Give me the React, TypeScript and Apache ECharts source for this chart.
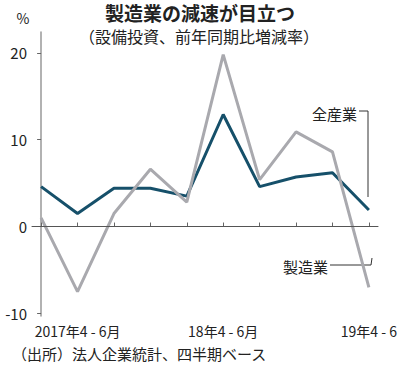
import React, { useEffect, useRef } from "react";
import * as echarts from "echarts";

const quarters = ["2017年1-3月", "2017年4-6月", "7-9月", "10-12月", "2018年1-3月", "18年4-6月", "7-9月", "10-12月", "2019年1-3月", "19年4-6月"];
const tickLabels = ["", "2017年4 - 6月", "", "", "", "18年4 - 6月", "", "", "", "19年4 - 6"];
const allIndustry = [4.6, 1.5, 4.4, 4.4, 3.5, 12.9, 4.6, 5.7, 6.2, 1.9];
const manufacturing = [1.0, -7.5, 1.5, 6.6, 2.8, 19.8, 5.4, 10.9, 8.6, -7.0];
const yTicks = [-10, 0, 10, 20];

const FONT = "'Noto Sans CJK JP', 'Noto Sans', sans-serif";
const TEXT = "#222";

export default function App() {
  const ref = useRef<HTMLDivElement>(null);
  useEffect(() => {
    if (!ref.current) return;
    const chart = echarts.init(ref.current, null, { renderer: "svg" });
    const toPairs = (arr: number[]) => arr.map((v, i) => [i, v]);
    chart.setOption({
      animation: false,
      textStyle: { fontFamily: FONT },
      grid: { left: 32, right: 10, top: 32, bottom: 52, containLabel: false },
      xAxis: {
        type: "value",
        min: -0.25,
        max: 9.25,
        splitLine: { show: false },
        axisLine: { show: true, lineStyle: { color: "#666", width: 1.2 } },
        axisTick: {
          show: true,
          inside: true,
          length: 4,
          customValues: quarters.map((_, i) => i),
          lineStyle: { color: "#666" },
        },
        axisLabel: {
          customValues: [1, 5, 9],
          formatter: (v: number) => tickLabels[Math.round(v)] || "",
          color: TEXT,
          fontSize: 14,
          fontFamily: FONT,
          margin: 8,
        },
      },
      yAxis: {
        type: "value",
        min: -10.3,
        max: 22.4,
        splitLine: { show: false },
        axisLine: { show: true, lineStyle: { color: "#999", width: 1.5 } },
        axisTick: {
          show: true,
          length: 4,
          customValues: yTicks,
          lineStyle: { color: "#666" },
        },
        axisLabel: {
          customValues: yTicks,
          color: TEXT,
          fontSize: 15,
          fontFamily: FONT,
          margin: 5,
        },
      },
      series: [
        {
          name: "全産業",
          type: "line",
          data: toPairs(allIndustry),
          symbol: "none",
          lineStyle: { color: "#16506a", width: 3 },
          z: 2,
          markLine: {
            silent: true,
            symbol: "none",
            label: { show: false },
            lineStyle: { color: "#555", width: 1, type: "solid" },
            data: [{ yAxis: 0 }],
          },
        },
        {
          name: "製造業",
          type: "line",
          data: toPairs(manufacturing),
          symbol: "none",
          lineStyle: { color: "#a9a9ae", width: 3 },
          z: 3,
        },
      ],
      graphic: [
        {
          type: "text",
          x: 200,
          y: 12,
          style: { text: "製造業の減速が目立つ", font: `bold 19px ${FONT}`, lineHeight: 19, fill: TEXT, textAlign: "center", textVerticalAlign: "middle" },
        },
        {
          type: "text",
          x: 199,
          y: 36,
          style: { text: "（設備投資、前年同期比増減率）", font: `16px ${FONT}`, lineHeight: 16, fill: TEXT, textAlign: "center", textVerticalAlign: "middle" },
        },
        {
          type: "text",
          x: 23,
          y: 18,
          style: { text: "%", font: `14px ${FONT}`, fill: TEXT, textAlign: "center", textVerticalAlign: "middle" },
        },
        {
          type: "text",
          x: 12,
          y: 353,
          style: { text: "（出所）法人企業統計、四半期ベース", font: `15px ${FONT}`, fill: TEXT, textAlign: "left", textVerticalAlign: "middle" },
        },
        {
          type: "text",
          x: 357,
          y: 113,
          style: { text: "全産業", font: `15px ${FONT}`, fill: TEXT, textAlign: "right", textVerticalAlign: "middle" },
        },
        {
          type: "polyline",
          shape: { points: [[359, 111], [368, 111], [368, 197]] },
          style: { stroke: "#333", lineWidth: 1, fill: "none" },
        },
        {
          type: "text",
          x: 328,
          y: 266,
          style: { text: "製造業", font: `15px ${FONT}`, fill: TEXT, textAlign: "right", textVerticalAlign: "middle" },
        },
        {
          type: "polyline",
          shape: { points: [[330, 265], [371, 265], [372, 258]] },
          style: { stroke: "#333", lineWidth: 1, fill: "none" },
        },
      ],
    });
    return () => chart.dispose();
  }, []);
  return <div ref={ref} style={{ position: "fixed", left: 0, top: 0, width: 400, height: 368, background: "#fff" }} />;
}
